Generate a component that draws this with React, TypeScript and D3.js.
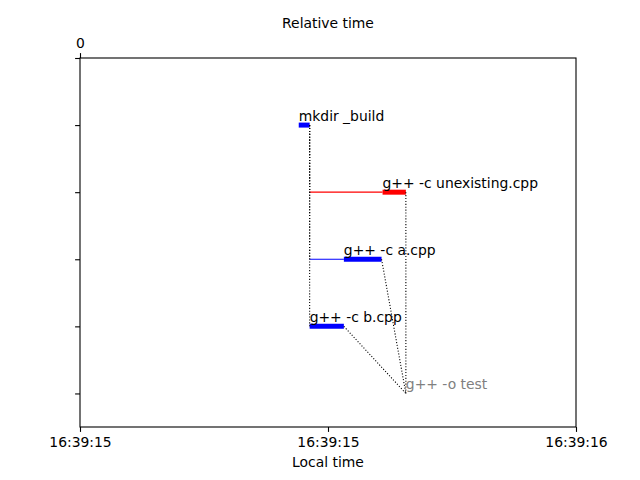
import { useEffect, useRef } from "react";
import * as d3 from "d3";

// task timeline (seconds after 16:39:15)
const taskNames = [
  "mkdir _build",
  "g++ -c unexisting.cpp",
  "g++ -c a.cpp",
  "g++ -c b.cpp",
  "g++ -o test",
];
const taskRows = [1, 2, 3, 4, 5];
const waitStarts = [0.4415, 0.4637, 0.4637, 0.4637, 0.6573];
const runStarts = [0.4415, 0.6109, 0.5323, 0.4637, 0.6573];
const runEnds = [0.4637, 0.6573, 0.6089, 0.5323, 0.6573];
const taskStatus = ["ok", "failed", "ok", "ok", "skipped"];
const depFrom = [0, 0, 0, 1, 2, 3];
const depTo = [1, 2, 3, 4, 4, 4];
const yTicks = [0, 1, 2, 3, 4, 5];
const relTicks = [0];
const localTicks = [0, 0.5, 1];

const FONT = "DejaVu Sans, sans-serif";
const baseTime = new Date(2020, 0, 1, 16, 39, 15).getTime();
const toDate = (s: number) => new Date(baseTime + s * 1000);

const App = () => {
  const svgRef = useRef<SVGSVGElement>(null);

  useEffect(() => {
    const svg = d3.select(svgRef.current);
    svg.selectAll("*").remove();

    const left = 80;
    const right = 576;
    const top = 58;
    const bottom = 427;

    const x = d3.scaleTime().domain([toDate(0), toDate(1)]).range([left, right]);
    const xRel = d3.scaleLinear().domain([0, 1]).range([left, right]);
    const y = d3.scaleLinear().domain([0, 5.5]).range([top, bottom]);

    const colorFor = (st: string) =>
      st === "failed" ? "#ff0000" : st === "skipped" ? "#808080" : "#0000ff";

    // waiting lines
    taskNames.forEach((_, i) => {
      if (runStarts[i] > waitStarts[i]) {
        svg
          .append("line")
          .attr("x1", x(toDate(waitStarts[i])))
          .attr("x2", x(toDate(runStarts[i])))
          .attr("y1", y(taskRows[i]))
          .attr("y2", y(taskRows[i]))
          .attr("stroke", colorFor(taskStatus[i]))
          .attr("stroke-width", 1.2);
      }
    });

    // running bars
    taskNames.forEach((_, i) => {
      if (runEnds[i] > runStarts[i]) {
        svg
          .append("line")
          .attr("x1", x(toDate(runStarts[i])))
          .attr("x2", x(toDate(runEnds[i])))
          .attr("y1", y(taskRows[i]))
          .attr("y2", y(taskRows[i]))
          .attr("stroke", colorFor(taskStatus[i]))
          .attr("stroke-width", 5);
      }
    });

    // dependencies
    depFrom.forEach((f, k) => {
      const t = depTo[k];
      svg
        .append("line")
        .attr("x1", x(toDate(runEnds[f])))
        .attr("y1", y(taskRows[f]))
        .attr("x2", x(toDate(waitStarts[t])))
        .attr("y2", y(taskRows[t]))
        .attr("stroke", "#000")
        .attr("stroke-width", 1.1)
        .attr("stroke-dasharray", "1.1,1.8");
    });

    // labels
    taskNames.forEach((name, i) => {
      svg
        .append("text")
        .attr("x", x(toDate(waitStarts[i] === runStarts[i] ? runStarts[i] : runStarts[i])))
        .attr("y", y(taskRows[i]) - 4)
        .attr("font-family", FONT)
        .attr("font-size", "13.9px")
        .attr("fill", taskStatus[i] === "skipped" ? "#808080" : "#000")
        .text(name);
    });

    // frame
    svg
      .append("rect")
      .attr("x", left)
      .attr("y", top)
      .attr("width", right - left)
      .attr("height", bottom - top)
      .attr("fill", "none")
      .attr("stroke", "#000")
      .attr("stroke-width", 1.1);

    // bottom axis
    const gx = svg
      .append("g")
      .attr("transform", `translate(0,${bottom})`)
      .call(
        d3
          .axisBottom(x)
          .tickValues(localTicks.map(toDate))
          .tickFormat((d) => d3.timeFormat("%H:%M:%S")(d as Date))
          .tickSizeInner(4.9)
          .tickSizeOuter(0)
          .tickPadding(4.9)
      );

    // top axis
    const gt = svg
      .append("g")
      .attr("transform", `translate(0,${top})`)
      .call(
        d3
          .axisTop(xRel)
          .tickValues(relTicks)
          .tickFormat(d3.format("d"))
          .tickSizeInner(4.9)
          .tickSizeOuter(0)
          .tickPadding(4.9)
      );

    // left axis
    const gy = svg
      .append("g")
      .attr("transform", `translate(${left},0)`)
      .call(
        d3
          .axisLeft(y)
          .tickValues(yTicks)
          .tickFormat(() => "")
          .tickSizeInner(4.9)
          .tickSizeOuter(0)
      );

    [gx, gt, gy].forEach((g) => {
      g.select(".domain").remove();
      g.selectAll(".tick line").attr("stroke", "#000").attr("stroke-width", 1.1);
      g.selectAll(".tick text")
        .attr("font-family", FONT)
        .attr("font-size", "13.9px")
        .attr("fill", "#000");
    });

    svg
      .append("text")
      .attr("x", (left + right) / 2)
      .attr("y", 467)
      .attr("text-anchor", "middle")
      .attr("font-family", FONT)
      .attr("font-size", "13.9px")
      .text("Local time");

    svg
      .append("text")
      .attr("x", (left + right) / 2)
      .attr("y", 28)
      .attr("text-anchor", "middle")
      .attr("font-family", FONT)
      .attr("font-size", "13.9px")
      .text("Relative time");
  }, []);

  return (
    <div style={{ position: "absolute", left: 0, top: 0 }}>
      <svg ref={svgRef} width="640" height="480" style={{ display: "block", background: "#fff" }}></svg>
    </div>
  );
};

export default App;
